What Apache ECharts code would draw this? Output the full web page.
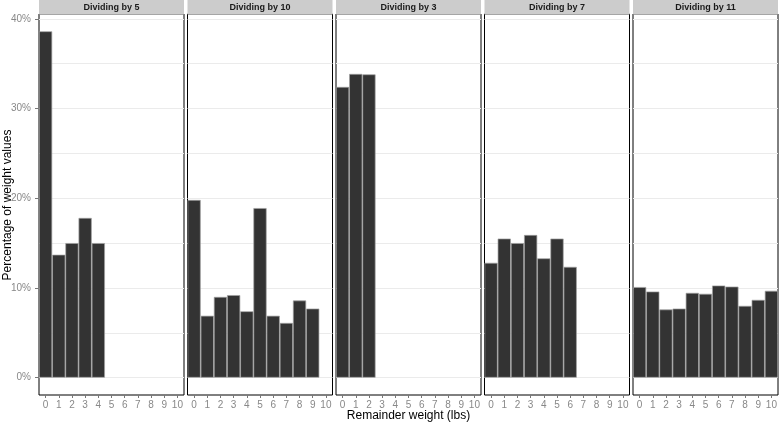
<!DOCTYPE html>
<html>
<head>
<meta charset="utf-8">
<script src="https://cdn.jsdelivr.net/npm/echarts@6/dist/echarts.min.js"></script>
<style>
  html, body { margin: 0; padding: 0; background: #fff; }
  #chart { width: 779px; height: 424px; }
</style>
</head>
<body>
<div id="chart"></div>
<script>
// remainder categories, shared by all panels
const remainders = ["0", "1", "2", "3", "4", "5", "6", "7", "8", "9", "10"];
const panelTitles = ["Dividing by 5", "Dividing by 10", "Dividing by 3", "Dividing by 7", "Dividing by 11"];

// percentage of weight values per remainder
const by5 = [38.6, 13.7, 15.0, 17.8, 15.0];
const by10 = [19.8, 6.9, 9.0, 9.2, 7.4, 18.9, 6.9, 6.1, 8.6, 7.7];
const by3 = [32.4, 33.85, 33.8];
const by7 = [12.8, 15.5, 15.0, 15.9, 13.3, 15.5, 12.35];
const by11 = [10.1, 9.6, 7.6, 7.7, 9.45, 9.35, 10.27, 10.15, 8.0, 8.67, 9.68];

const yTicks = [0, 10, 20, 30, 40];
const gridValues = [0, 5, 10, 15, 20, 25, 30, 35, 40];

const panels = [by5, by10, by3, by7, by11];

const FONT = "Liberation Sans, Arial, sans-serif";
const chart = echarts.init(document.getElementById("chart"), null, { renderer: "canvas" });

// panel layout (pixels)
const P_LEFT = 39, P_WIDTH = 145, P_STEP = 148.5, P_TOP = 14, P_BOTTOM = 29;

const grids = [], xAxes = [], yAxes = [], series = [], graphics = [];

panels.forEach((vals, i) => {
  const left = P_LEFT + i * P_STEP;
  grids.push({
    left: left, width: P_WIDTH, top: P_TOP, bottom: P_BOTTOM,
    outerBoundsMode: "none", containLabel: false,
    show: true, borderColor: "#000", borderWidth: 1, backgroundColor: "transparent"
  });
  xAxes.push({
    type: "category", gridIndex: i, data: remainders,
    axisLine: { show: false, onZero: false },
    axisTick: { show: true, alignWithLabel: true, length: 3, lineStyle: { color: "#777" } },
    axisLabel: { color: "#888", fontSize: 10, fontFamily: FONT, margin: 5, interval: 0 },
    splitLine: { show: false }
  });
  yAxes.push({
    type: "value", gridIndex: i, min: -1.93, max: 40.53,
    axisLine: { show: false },
    axisTick: { show: i === 0, length: 4, customValues: yTicks, lineStyle: { color: "#777" } },
    axisLabel: {
      show: i === 0, customValues: yTicks, color: "#888", fontSize: 10, fontFamily: FONT, margin: 8,
      formatter: v => v + "%"
    },
    splitLine: { show: false }
  });
  series.push({
    type: "bar", xAxisIndex: i, yAxisIndex: i, data: vals, z: 2,
    barWidth: "100%", barCategoryGap: "0%",
    itemStyle: { color: "#333333", borderColor: "#a0a0a0", borderWidth: 0.7 },
    silent: true,
    markLine: {
      silent: true, symbol: "none", z: 1, animation: false,
      label: { show: false },
      lineStyle: { color: "#ebebeb", type: "solid", width: 1 },
      data: gridValues.map(v => ({ yAxis: v }))
    }
  });
  // facet strip
  graphics.push({
    type: "rect", z: 10,
    shape: { x: left, y: 0, width: P_WIDTH, height: P_TOP + 0.5 },
    style: { fill: "#cccccc" }
  });
  graphics.push({
    type: "text", z: 11,
    x: left + P_WIDTH / 2, y: 7.5,
    style: {
      text: panelTitles[i], fill: "#1a1a1a", font: "bold 9px " + FONT,
      textAlign: "center", textVerticalAlign: "middle"
    }
  });
});

// axis titles
graphics.push({
  type: "text",
  x: P_LEFT + (4 * P_STEP + P_WIDTH) / 2, y: 416,
  style: {
    text: "Remainder weight (lbs)", fill: "#000", font: "12px " + FONT,
    textAlign: "center", textVerticalAlign: "middle"
  }
});
graphics.push({
  type: "text",
  x: 8, y: 205, rotation: Math.PI / 2,
  style: {
    text: "Percentage of weight values", fill: "#000", font: "12px " + FONT,
    textAlign: "center", textVerticalAlign: "middle"
  }
});

chart.setOption({
  animation: false,
  textStyle: { fontFamily: FONT },
  grid: grids,
  xAxis: xAxes,
  yAxis: yAxes,
  series: series,
  graphic: graphics
});
</script>
</body>
</html>
